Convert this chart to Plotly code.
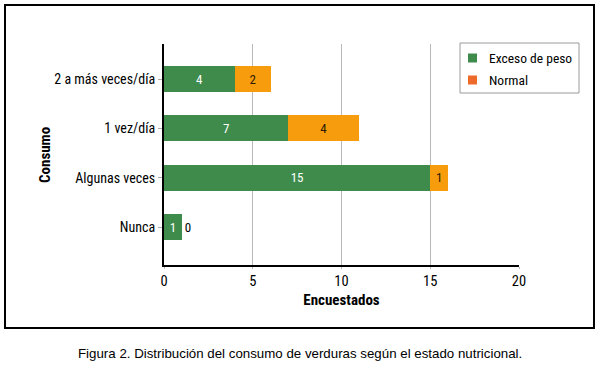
import plotly.graph_objects as go

categories = ["Nunca", "Algunas veces", "1 vez/día", "2 a más veces/día"]
exceso = [1, 15, 7, 4]
normal = [0, 1, 4, 2]
x_ticks = [0, 5, 10, 15, 20]
series_names = ["Exceso de peso", "Normal"]

GREEN = "#3e8b4c"
ORANGE = "#f79c0c"
ORANGE_LEG = "#ee6a2a"
FONT = "Roboto Condensed, DejaVu Sans Condensed, sans-serif"

fig = go.Figure()
fig.add_trace(go.Bar(
    y=categories, x=exceso, orientation="h", name=series_names[0],
    marker=dict(color=GREEN, line=dict(width=0)),
    text=[str(v) for v in exceso], textposition="inside", insidetextanchor="middle",
    textfont=dict(color="white", size=13, family=FONT), width=0.53,
))
fig.add_trace(go.Bar(
    y=categories, x=normal, orientation="h", name=series_names[1],
    marker=dict(color=ORANGE, line=dict(width=0)),
    text=[str(v) for v in normal],
    textposition=["outside", "inside", "inside", "inside"], insidetextanchor="middle",
    textfont=dict(color="#2a1a00", size=13, family=FONT),
    outsidetextfont=dict(color="black", size=13, family=FONT),
    width=0.53, cliponaxis=False,
))

L, R, T, B = 164, 519, 44, 265
W, H = 600, 367
pw, ph = R - L, B - T


def px(x):
    return (x - L) / pw


def py(y):
    return (B - y) / ph


shapes = [
    # outer frame
    dict(type="rect", xref="paper", yref="paper", x0=px(5), x1=px(594), y0=py(328), y1=py(5),
         line=dict(color="black", width=2), fillcolor="rgba(0,0,0,0)", layer="above"),
    # legend box
    dict(type="rect", xref="paper", yref="paper", x0=px(460), x1=px(579), y0=py(93), y1=py(43),
         line=dict(color="#9a9a9a", width=1), fillcolor="white", layer="above"),
    dict(type="rect", xref="paper", yref="paper", x0=px(468), x1=px(477), y0=py(62.5), y1=py(53.5),
         line=dict(width=0), fillcolor=GREEN, layer="above"),
    dict(type="rect", xref="paper", yref="paper", x0=px(468), x1=px(477), y0=py(84.5), y1=py(75.5),
         line=dict(width=0), fillcolor=ORANGE_LEG, layer="above"),
]

annotations = [
    dict(text=series_names[0], xref="paper", yref="paper", x=px(487), y=py(58), xanchor="left",
         yanchor="middle", showarrow=False, font=dict(family=FONT, size=13.5, color="black")),
    dict(text=series_names[1], xref="paper", yref="paper", x=px(487), y=py(80), xanchor="left",
         yanchor="middle", showarrow=False, font=dict(family=FONT, size=13.5, color="black")),
    dict(text="<b>Consumo</b>", xref="paper", yref="paper", x=px(45), y=py(155), xanchor="center",
         yanchor="middle", textangle=-90, showarrow=False, font=dict(family=FONT, size=15, color="black")),
    dict(text="Figura 2. Distribución del consumo de verduras según el estado nutricional.",
         xref="paper", yref="paper", x=px(300), y=py(353), xanchor="center", yanchor="middle",
         showarrow=False, font=dict(family="Liberation Sans, Arial, sans-serif", size=13.3, color="black")),
]

fig.update_layout(
    width=W, height=H, barmode="stack", bargap=0.47,
    margin=dict(l=L, r=W - R, t=T, b=H - B, autoexpand=False),
    paper_bgcolor="white", plot_bgcolor="white",
    font=dict(family=FONT, size=14, color="black"),
    showlegend=False,
    xaxis=dict(range=[0, 20], tickvals=x_ticks, ticktext=[str(v) for v in x_ticks],
               showgrid=True, gridcolor="#b8b8b8", gridwidth=1,
               showline=True, linecolor="black", linewidth=2,
               ticks="outside", ticklen=2, tickcolor="#bbbbbb",
               tickfont=dict(size=14.5, family=FONT), zeroline=False,
               title=dict(text="<b>Encuestados</b>", font=dict(size=15, family=FONT), standoff=5)),
    yaxis=dict(categoryorder="array", categoryarray=categories, range=[-0.77, 3.71],
               showgrid=False, showline=True, linecolor="black", linewidth=2,
               ticks="outside", ticklen=4, tickcolor="#aaaaaa",
               tickfont=dict(size=14, family=FONT)),
    shapes=shapes,
    annotations=annotations,
)

fig.write_html("out.html", config={"displayModeBar": False},
               post_script="document.body.style.margin='0';")
